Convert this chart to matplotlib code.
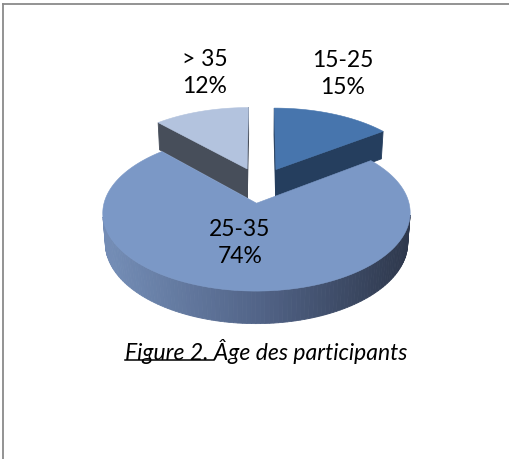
import numpy as np
import matplotlib
matplotlib.use("Agg")
import matplotlib.pyplot as plt
from matplotlib.patches import Polygon
from matplotlib.lines import Line2D

# ---- data ----
categories = ['15-25', '25-35', '> 35']
values = [15, 74, 12]
pct_labels = ['15%', '74%', '12%']
caption_prefix = 'Figure 2.'
caption_rest = 'Âge des participants'

# ---- styles ----
top_colors = ['#4775AD', '#7B98C6', '#B3C3DE']
side_colors = ['#253E5E', None, '#474E5A']
label_pos = [(343, 74), (240, 243), (205, 73)]   # pixel centres of the two-line labels

W, Hpx = 509, 459
fig = plt.figure(figsize=(W / 100, Hpx / 100), dpi=100)
ax = fig.add_axes([0, 0, 1, 1])
ax.set_xlim(0, W)
ax.set_ylim(Hpx, 0)
ax.axis('off')

# ---- projection of a 3D pie ----
TH = np.radians(29.3)
DIST = 7.2
F = 148
CX, CY = 260, 185
HGT = 0.231
EXP = 0.245
CAM = np.array([0.0, -DIST * np.cos(TH), DIST * np.sin(TH)])


def proj(x, y, z):
    w = y * np.cos(TH) - z * np.sin(TH)
    v = y * np.sin(TH) + z * np.cos(TH)
    s = 1.0 / (1.0 + w / DIST)
    return CX + F * x * s, CY - F * v * s


def depth(p):
    return p[1] * np.cos(TH) - p[2] * np.sin(TH)


def main_wall_color(t):
    stops = np.array([[0.45, 0.55, 0.71], [0.32, 0.39, 0.53], [0.18, 0.22, 0.30]])
    t = np.clip(t, 0, 1)
    if t < 0.5:
        c = stops[0] + (stops[1] - stops[0]) * t / 0.5
    else:
        c = stops[1] + (stops[2] - stops[1]) * (t - 0.5) / 0.5
    return tuple(c)


vals = np.array(values, dtype=float)
fr = vals / vals.sum()
ends = np.cumsum(fr) * 2 * np.pi
starts = ends - fr * 2 * np.pi

walls = []   # (depth, polygon pts, color)
tops = []
for i in range(len(values)):
    a0, a1 = starts[i], ends[i]
    am = 0.5 * (a0 + a1)
    ox, oy = EXP * np.sin(am), EXP * np.cos(am)
    n = max(int((a1 - a0) / np.radians(1.5)), 4)
    ang = np.linspace(a0, a1, n + 1)
    rx = ox + np.sin(ang)
    ry = oy + np.cos(ang)
    # top face
    pts = [proj(ox, oy, 0)] + [proj(x, y, 0) for x, y in zip(rx, ry)]
    tops.append((pts, top_colors[i]))
    # outer wall
    for k in range(n):
        am_k = 0.5 * (ang[k] + ang[k + 1])
        nrm = np.array([np.sin(am_k), np.cos(am_k), 0])
        mid = np.array([ox + np.sin(am_k), oy + np.cos(am_k), -HGT / 2])
        if np.dot(nrm, CAM - mid) <= 0:
            continue
        q = [proj(rx[k], ry[k], 0), proj(rx[k + 1], ry[k + 1], 0),
             proj(rx[k + 1], ry[k + 1], -HGT), proj(rx[k], ry[k], -HGT)]
        if side_colors[i] is None:
            t = (0.5 * (q[0][0] + q[1][0]) - (CX - F)) / (2 * F)
            col = main_wall_color(t)
        else:
            col = side_colors[i]
        walls.append((depth(mid), q, col))
    # radial walls
    for a, nrm in ((a0, np.array([-np.cos(a0), np.sin(a0), 0])),
                   (a1, np.array([np.cos(a1), -np.sin(a1), 0]))):
        ex, ey = ox + np.sin(a), oy + np.cos(a)
        mid = np.array([(ox + ex) / 2, (oy + ey) / 2, -HGT / 2])
        if np.dot(nrm, CAM - mid) <= 0:
            continue
        q = [proj(ox, oy, 0), proj(ex, ey, 0), proj(ex, ey, -HGT), proj(ox, oy, -HGT)]
        col = side_colors[i] if side_colors[i] is not None else main_wall_color(0.5)
        walls.append((depth(mid), q, col))

for d, q, col in sorted(walls, key=lambda r: -r[0]):
    ax.add_patch(Polygon(q, closed=True, facecolor=col, edgecolor=col, linewidth=0.6))
for pts, col in tops:
    ax.add_patch(Polygon(pts, closed=True, facecolor=col, edgecolor=col, linewidth=0.4))

# ---- labels ----
for (lx, ly), cat, pc in zip(label_pos, categories, pct_labels):
    ax.text(lx, ly, f'{cat}\n{pc}', ha='center', va='center', fontsize=16.5,
            family='Lato', color='black', linespacing=1.3)

# ---- frame (only left and top visible) ----
ax.add_line(Line2D([3.5, 3.5], [3.5, Hpx + 5], color='#8a8a8a', lw=1.3))
ax.add_line(Line2D([3.5, W + 5], [3.5, 3.5], color='#8a8a8a', lw=1.3))

# ---- caption with underlined prefix ----
cap_fs = 16.5
full = caption_prefix + ' ' + caption_rest
tcap = ax.text(266, 351, full, ha='center', va='center', fontsize=cap_fs,
               family='Lato', style='italic', color='black')
fig.canvas.draw()
r = fig.canvas.get_renderer()
bb = tcap.get_window_extent(r)
tmp = ax.text(0, 0, caption_prefix + ' ', fontsize=cap_fs, family='Lato', style='italic')
pw = tmp.get_window_extent(r).width
tmp.remove()
x0 = bb.x0
y_line_disp = bb.y0 + 3
inv = ax.transData.inverted()
(xa, ya) = inv.transform((x0, y_line_disp))
(xb, _) = inv.transform((x0 + pw, y_line_disp))
ax.add_line(Line2D([xa, xb], [ya, ya], color='black', lw=1.1))

fig.savefig('out.png', dpi=100)
